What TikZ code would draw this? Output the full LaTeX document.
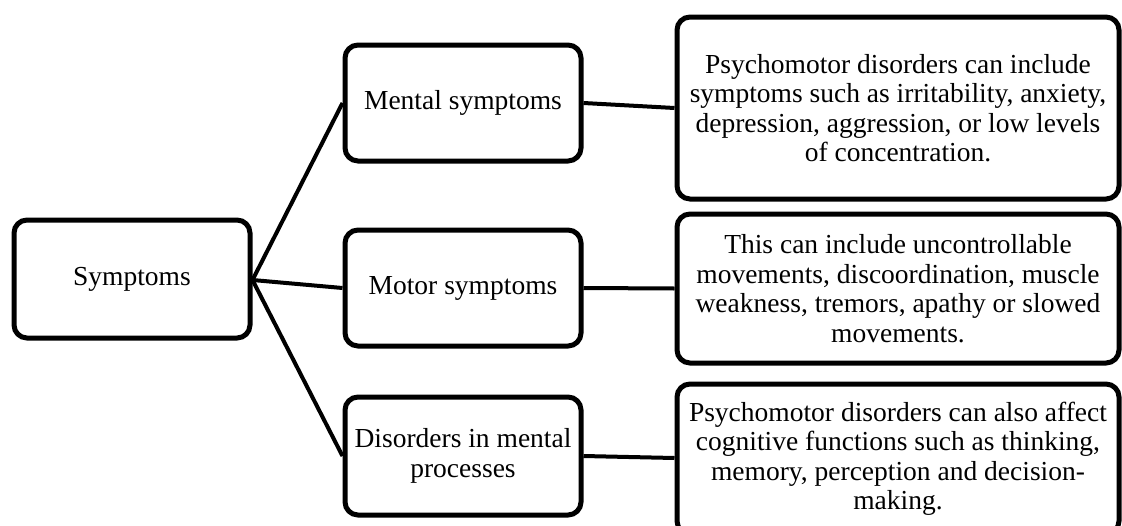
\documentclass[tikz,border=0pt]{standalone}
\usepackage{fontspec}
\setmainfont{Liberation Serif}
\begin{document}
\begin{tikzpicture}[x=1pt,y=-1pt,
  box/.style={draw=black, line width=5pt, rounded corners=13pt, fill=white,
    align=center, inner sep=2pt, font=\fontsize{27.5}{29.5}\selectfont},
  conn/.style={line width=4pt}]
\useasboundingbox (0,0) rectangle (1122,525);
\clip (0,0) rectangle (1122,525);
\node[box, minimum width=236pt, minimum height=118pt] (sym) at (132,279) {Symptoms};
\node[box, minimum width=236pt, minimum height=116pt] (men) at (463,103) {Mental symptoms};
\node[box, minimum width=236pt, minimum height=116pt] (mot) at (463,288) {Motor symptoms};
\node[box, minimum width=236pt, minimum height=118pt] (dis) at (463,456) {Disorders in mental\\processes};
\node[box, minimum width=442pt, minimum height=182pt] (d1) at (898,108) {Psychomotor disorders can include\\symptoms such as irritability, anxiety,\\depression, aggression, or low levels\\of concentration.};
\node[box, minimum width=442pt, minimum height=149pt] (d2) at (898,288.5) {This can include uncontrollable\\movements, discoordination, muscle\\weakness, tremors, apathy or slowed\\movements.};
\node[box, minimum width=442pt, minimum height=150pt] (d3) at (898,459) {Psychomotor disorders can also affect\\cognitive functions such as thinking,\\memory, perception and decision-\\making.};
\coordinate (hub) at ([yshift=-1pt]sym.east);
\draw[conn] (hub) -- (men.west);
\draw[conn] (hub) -- (mot.west);
\draw[conn] (hub) -- (dis.west);
\draw[conn] (men.east) -- (d1.west);
\draw[conn] (mot.east) -- (d2.west);
\draw[conn] (dis.east) -- ([yshift=1pt]d3.west);
\end{tikzpicture}
\end{document}
